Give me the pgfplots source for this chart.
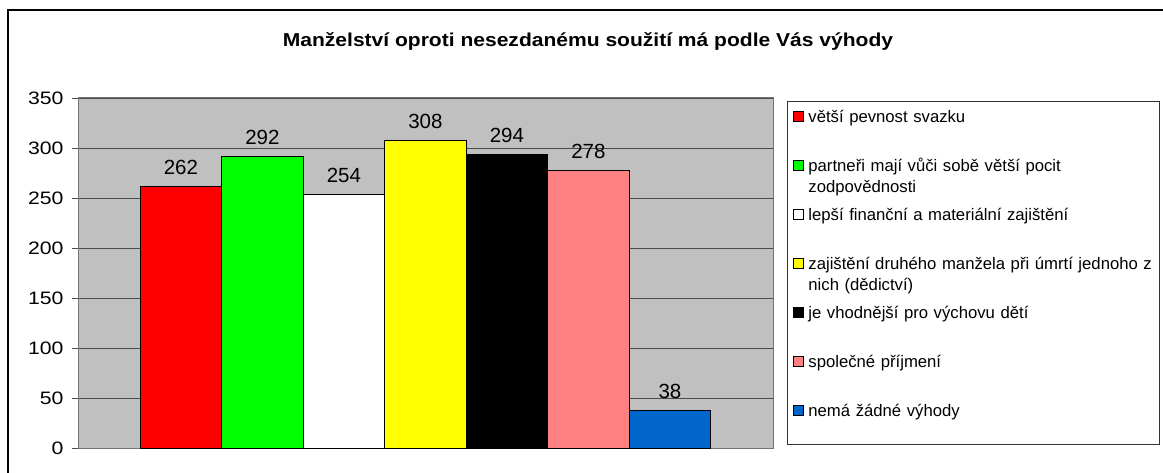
\documentclass[border=0pt]{standalone}
\usepackage{fontspec}
\setmainfont{Liberation Sans}
\newfontfamily\titlefont[FakeStretch=1.125]{Liberation Sans}
\newfontfamily\tickfont[FakeStretch=1.18]{Liberation Sans}
\usepackage{pgfplots}
\pgfplotsset{compat=1.18}
\definecolor{silverbg}{HTML}{C0C0C0}
\definecolor{cred}{HTML}{FF0000}
\definecolor{cgreen}{HTML}{00FF00}
\definecolor{cyellow}{HTML}{FFFF00}
\definecolor{cpink}{HTML}{FF8080}
\definecolor{cblue}{HTML}{0066CC}
\begin{document}
\begin{tikzpicture}
\draw[line width=1.3pt] (8pt,-40pt) rectangle (1220pt,463pt);
\node[anchor=base, font=\titlefont\bfseries\fontsize{18.7}{22}\selectfont] at (588pt,426pt) {Manželství oproti nesezdanému soužití má podle Vás výhody};
\begin{axis}[
  at={(79pt,24.5pt)}, anchor=south west,
  scale only axis, width=694pt, height=350.5pt,
  xmin=-0.25, xmax=8.265, ymin=0, ymax=350,
  ytick={0,50,...,350}, xtick=\empty,
  ytick pos=left,
  ymajorgrids, grid style={black!70, line width=0.9pt},
  axis background/.style={fill=silverbg},
  axis line style={black!55, line width=1pt},
  tick style={black!70, line width=0.9pt},
  tick align=outside, major tick length=7pt,
  /pgf/number format/assume math mode=true,
  yticklabel style={font=\tickfont\fontsize{18}{20}\selectfont, xshift=-5pt},
  nodes near coords,
  nodes near coords style={font=\fontsize{20.5}{24}\selectfont, anchor=base, yshift=12pt, text=black},
  legend image code/.code={\draw[#1, line width=0.9pt] (0pt,5pt) rectangle (10pt,15pt);},
  legend style={at={(1.0202,0.9914)}, anchor=north west, draw=black!80, line width=1pt, fill=white,
    inner xsep=5pt, inner ysep=9pt, row sep=18pt, column sep=5pt,
    font=\fontsize{16.7}{21}\selectfont,
    nodes={text width=346pt, align=left, text height=12pt, text depth=19pt, inner sep=0pt}},
  legend cell align=left,
]
\addplot[ybar, bar width=1, bar shift=0pt, fill=cred, draw=black, line width=1pt] coordinates {(1,262)};
\addlegendentry{větší pevnost svazku}
\addplot[ybar, bar width=1, bar shift=0pt, fill=cgreen, draw=black, line width=1pt] coordinates {(2,292)};
\addlegendentry{partneři mají vůči sobě větší pocit\\zodpovědnosti}
\addplot[ybar, bar width=1, bar shift=0pt, fill=white, draw=black, line width=1pt] coordinates {(3,254)};
\addlegendentry{lepší finanční a materiální zajištění}
\addplot[ybar, bar width=1, bar shift=0pt, fill=cyellow, draw=black, line width=1pt] coordinates {(4,308)};
\addlegendentry{zajištění druhého manžela při úmrtí jednoho z\\nich (dědictví)}
\addplot[ybar, bar width=1, bar shift=0pt, fill=black, draw=black, line width=1pt] coordinates {(5,294)};
\addlegendentry{je vhodnější pro výchovu dětí}
\addplot[ybar, bar width=1, bar shift=0pt, fill=cpink, draw=black, line width=1pt] coordinates {(6,278)};
\addlegendentry{společné příjmení}
\addplot[ybar, bar width=1, bar shift=0pt, fill=cblue, draw=black, line width=1pt] coordinates {(7,38)};
\addlegendentry{nemá žádné výhody}
\end{axis}
\pgfresetboundingbox
\useasboundingbox (0,0) rectangle (1163pt,473pt);
\end{tikzpicture}
\end{document}
